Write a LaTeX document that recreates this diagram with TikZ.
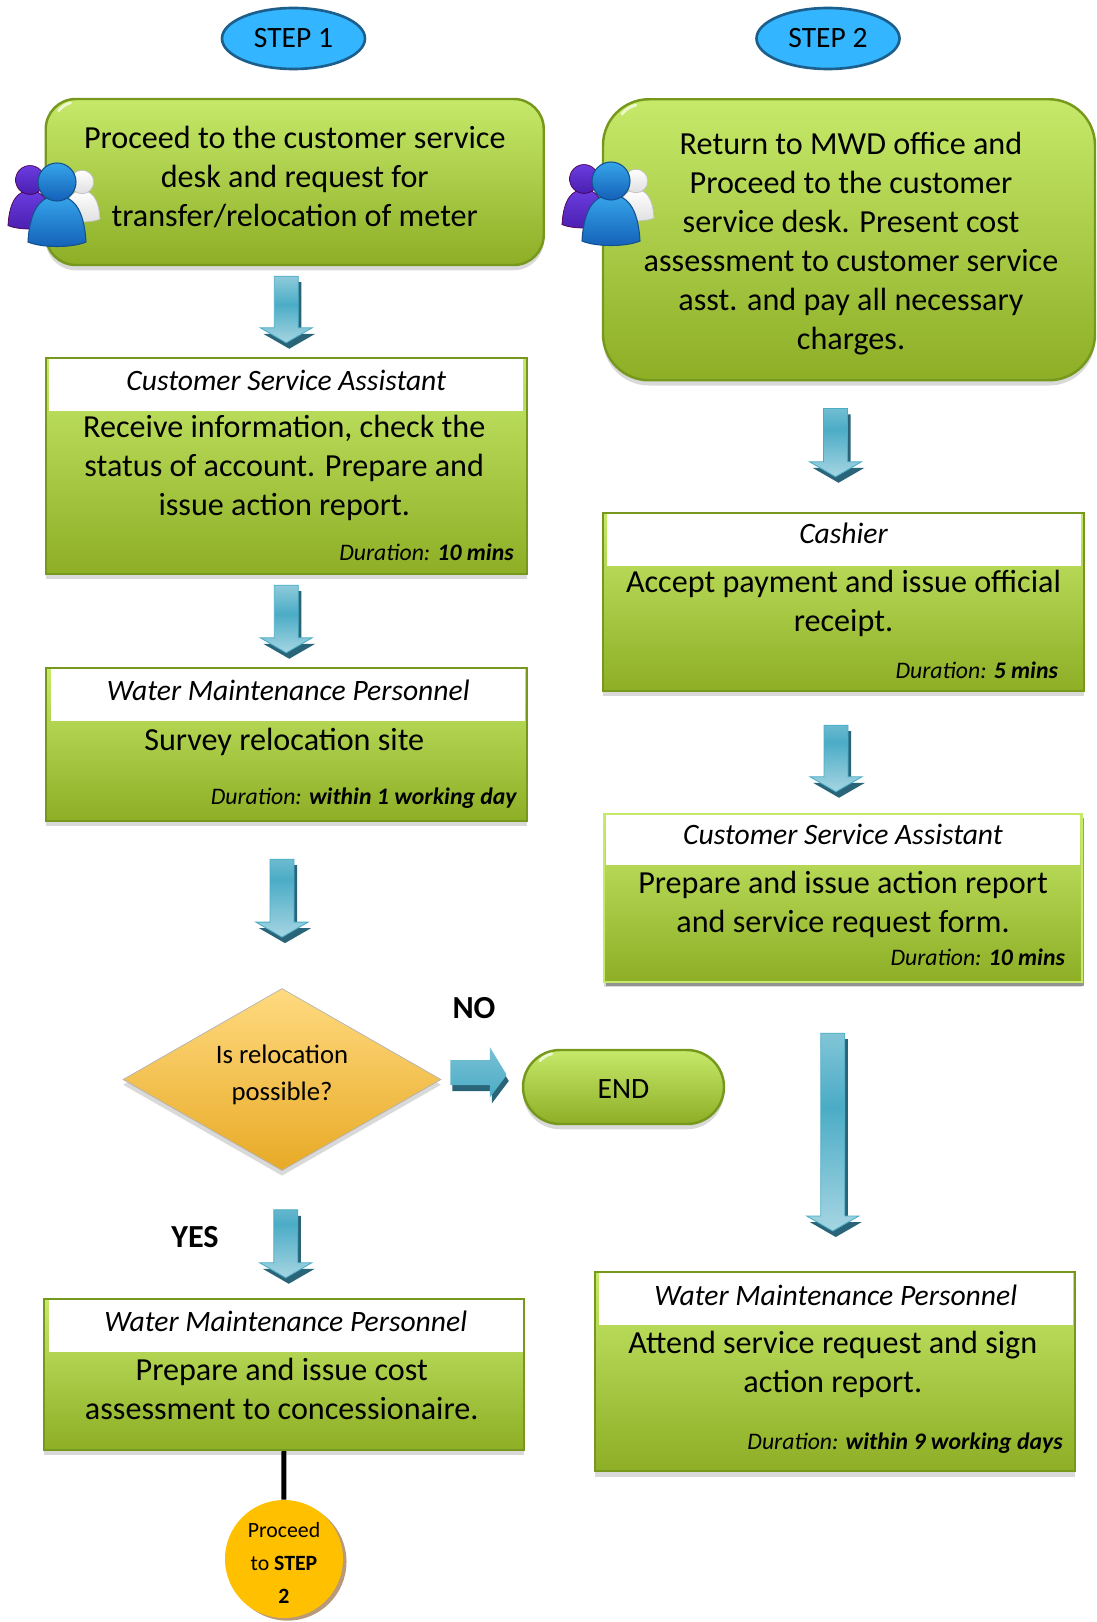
\documentclass[tikz,border=0pt]{standalone}
\usepackage{fontspec}
\setmainfont{Carlito}
\usetikzlibrary{positioning,calc,shadows,shapes.geometric}
\newdimen\unitDist
\unitDist=0.02cm
\definecolor{boxTop}{HTML}{C6E96A}
\definecolor{boxBot}{HTML}{8DAE25}
\definecolor{boxLine}{HTML}{76981C}
\definecolor{arrowLight}{HTML}{A6D5E2}
\definecolor{arrowMid}{HTML}{4BACC6}
\definecolor{arrowDark}{HTML}{2A6478}
\tikzset{
  fatdown/.style n args={3}{to path={
    let \p1=(\tikztostart), \p2=(\tikztotarget) in
    (\x2+#3*\unitDist-12*\unitDist,\y1-#1*\unitDist) -- ++(24*\unitDist,0)
    -- (\x2+#3*\unitDist+12*\unitDist,\y2+#2*\unitDist+21*\unitDist)
    -- (\x2+#3*\unitDist+26*\unitDist,\y2+#2*\unitDist+21*\unitDist)
    -- (\x2+#3*\unitDist,\y2+#2*\unitDist+6*\unitDist)
    -- (\x2+#3*\unitDist-26*\unitDist,\y2+#2*\unitDist+21*\unitDist)
    -- (\x2+#3*\unitDist-12*\unitDist,\y2+#2*\unitDist+21*\unitDist)
    -- cycle},
    top color=arrowLight, bottom color=arrowLight, middle color=arrowMid,
    draw=arrowMid, line width=0.5pt,
    preaction={fill=arrowDark, transform canvas={shift={(3*\unitDist,-6*\unitDist)}}}},
  fatright/.style n args={2}{to path={
    let \p1=(\tikztostart), \p2=(\tikztotarget) in
    (\x1+#1*\unitDist,\y1+19.5*\unitDist) -- (\x2-#2*\unitDist-19*\unitDist,\y1+19.5*\unitDist)
    -- (\x2-#2*\unitDist-19*\unitDist,\y1+32.5*\unitDist) -- (\x2-#2*\unitDist-2*\unitDist,\y1+4.5*\unitDist)
    -- (\x2-#2*\unitDist-19*\unitDist,\y1-18*\unitDist) -- (\x2-#2*\unitDist-19*\unitDist,\y1-5.5*\unitDist)
    -- (\x1+#1*\unitDist,\y1-5.5*\unitDist) -- cycle},
    top color=arrowMid!75!white, bottom color=arrowMid,
    preaction={fill=arrowDark, transform canvas={shift={(2*\unitDist,-6*\unitDist)}}}},
  person/.pic={
    \path [pic actions] (-29,60) .. controls (-27,25) and (-15,14) .. (0,14) .. controls (15,14) and (27,25) .. (29,60) .. controls (15,66) and (-15,66) .. (-29,60) -- cycle;
    \path [pic actions] (0,0) circle [radius=19];
  },
  people/.pic={
    \path (25,0) pic [scale=0.62, draw=gray!50, top color=white, bottom color=gray!25] {person};
    \path (-27,-2) pic [scale=0.76, draw=violet!60!black, top color={rgb,255:red,107;green,60;blue,224}, bottom color={rgb,255:red,74;green,31;blue,176}] {person};
    \path (0,0) pic [draw={rgb,255:red,18;green,80;blue,143}, line width=0.6pt, top color={rgb,255:red,54;green,165;blue,234}, bottom color={rgb,255:red,20;green,96;blue,184}] {person};
  }
}
\begin{document}
\begin{tikzpicture}[x=0.02cm,y=-0.02cm,font=\fontsize{18.3}{22.2}\selectfont]

\tikzstyle{s0} = [ellipse, minimum width=143*\unitDist, minimum height=61*\unitDist, draw={rgb,255:red,28;green,95;blue,140}, line width=1.5pt, fill={rgb,255:red,51;green,181;blue,255}, font=\fontsize{16.8}{22.2}\selectfont]
\tikzstyle{s1} = [rectangle, rounded corners=30*\unitDist, line width=1.4pt, draw=boxLine, top color=boxTop, bottom color=boxBot, drop shadow={shadow xshift=0pt, shadow yshift=-3pt, opacity=0.3}]
\tikzstyle{s2} = [rectangle, line width=1.4pt, draw=boxLine, top color=boxTop, bottom color=boxBot, drop shadow={shadow xshift=0pt, shadow yshift=-3pt, opacity=0.3}]
\tikzstyle{head} = [rectangle, fill=white, inner sep=0pt, text height=0.35cm, text depth=0.105cm, font=\fontsize{16.85}{22.2}\selectfont\itshape]
\tikzstyle{txt} = [inner sep=0pt, align=center]
\tikzstyle{dur} = [inner sep=0pt, anchor=east, font=\fontsize{13.5}{16}\selectfont\itshape]
\tikzstyle{lbl} = [inner sep=0pt, font=\fontsize{18.3}{22.2}\selectfont\bfseries]
\tikzstyle{glint} = [white, line width=1.6pt, line cap=round, opacity=0.7]

\useasboundingbox (0,0) rectangle (1096,1622);

    \node [s0] (S1) at (293.5,38.5) {STEP 1};
    \node [s0] (S2) at (828,38.5) {STEP 2};

    % left column
    \node [s1, minimum width=498*\unitDist, minimum height=166*\unitDist] (A) at (294.75,182) {};
    \path (A) ++(0,-5) node [txt] (At) {Proceed to the customer service\\desk and request for\\transfer/relocation of meter};
    \draw [glint] (A.north west) ++(14,13) to [bend left=15] ++(12,-8);

    \path (A) ++(-8.5,284) node [s2, minimum width=481*\unitDist, minimum height=216*\unitDist] (B) {};
    \path (B.north) ++(0,1.5) node [head, anchor=north, minimum width=474*\unitDist, minimum height=52*\unitDist] (Bh) {Customer Service Assistant};
    \path (B) ++(-2,2) node [txt] (Bt) {Receive information, check the\\status of account. Prepare and\\issue action report.};
    \path (B.south east) ++(-14,-23) node [dur] (Bd) {Duration: \textbf{10 mins}};

    \path (B) ++(0,278.5) node [s2, minimum width=481*\unitDist, minimum height=153*\unitDist] (C) {};
    \path (C.north) ++(2,1.5) node [head, anchor=north, minimum width=474*\unitDist, minimum height=52*\unitDist] (Ch) {Water Maintenance Personnel};
    \path (C) ++(-2,-3) node [txt] (Ct) {Survey relocation site};
    \path (C.south east) ++(-11,-24) node [dur] (Cd) {Duration: \textbf{within 1 working day}};

    \node [diamond, aspect=1.75, minimum width=318*\unitDist, minimum height=182*\unitDist, inner sep=0pt, draw=gray!60, top color={rgb,255:red,255;green,218;blue,128}, bottom color={rgb,255:red,232;green,170;blue,38}, drop shadow={shadow xshift=0pt, shadow yshift=-3pt, opacity=0.3}] (D) at (282,1079.5) {};
    \path (D) ++(0,-5) node [txt, font=\fontsize{15.2}{21}\selectfont] (Dt) {Is relocation\\possible?};

    \node [s1, minimum width=201*\unitDist, minimum height=74*\unitDist, rounded corners=37*\unitDist] (K) at (623.5,1087) {};
    \path (K) ++(0,2) node [txt, font=\fontsize{16.8}{22.2}\selectfont] (Kt) {END};
    \draw [glint] (K.north west) ++(18,12) to [bend left=15] ++(12,-7);
    \node [lbl] (No) at (474,1008) {NO};
    \node [lbl] (Yes) at (195,1237) {YES};

    \path (D) ++(1.75,295) node [s2, minimum width=480*\unitDist, minimum height=151*\unitDist] (E) {};
    \path (E.north) ++(2,1.5) node [head, anchor=north, minimum width=474*\unitDist, minimum height=52*\unitDist] (Eh) {Water Maintenance Personnel};
    \path (E) ++(-2,14.5) node [txt] (Et) {Prepare and issue cost\\assessment to concessionaire.};

    \node [circle, minimum size=118*\unitDist, inner sep=0pt, fill={rgb,255:red,255;green,192;blue,0}, drop shadow={shadow xshift=2pt, shadow yshift=-1.5pt, fill=brown!60!gray, opacity=0.8}] (J) at (284,1559) {};
    \path (J) ++(0,4) node [txt, font=\fontsize{12.4}{18.6}\selectfont] (Jt) {Proceed\\to \textbf{STEP}\\\textbf{2}};

    % right column
    \node [s1, rounded corners=46*\unitDist, minimum width=492*\unitDist, minimum height=281*\unitDist] (F) at (849,239.75) {};
    \path (F) ++(2,3.5) node [txt] (Ft) {Return to MWD office and\\Proceed to the customer\\service desk. Present cost\\assessment to customer service\\asst. and pay all necessary\\charges.};
    \draw [glint] (F.north west) ++(20,16) to [bend left=15] ++(14,-9);

    \node [s2, minimum width=481*\unitDist, minimum height=178*\unitDist] (G) at (843.5,602) {};
    \path (G.north) ++(0,1.5) node [head, anchor=north, text depth=0.185cm, minimum width=474*\unitDist, minimum height=52*\unitDist] (Gh) {Cashier};
    \path (G) ++(0,1) node [txt] (Gt) {Accept payment and issue official\\receipt.};
    \path (G.south east) ++(-27,-22) node [dur] (Gd) {Duration: \textbf{5 mins}};

    \node [s2, draw=boxTop, minimum width=478*\unitDist, minimum height=168*\unitDist, drop shadow={shadow xshift=1pt, shadow yshift=-2.5pt, fill=gray, opacity=0.8}] (H) at (843,898) {};
    \path (H.north) ++(0,2) node [head, anchor=north, text depth=0.185cm, minimum width=474*\unitDist, minimum height=50*\unitDist] (Hh) {Customer Service Assistant};
    \path (H) ++(0,6.5) node [txt] (Ht) {Prepare and issue action report\\and service request form.};
    \path (H.south east) ++(-18,-25.5) node [dur] (Hd) {Duration: \textbf{10 mins}};

    \node [s2, minimum width=480*\unitDist, minimum height=199*\unitDist] (I) at (834.75,1371.75) {};
    \path (I.north) ++(1,1.5) node [head, anchor=north, minimum width=474*\unitDist, minimum height=52*\unitDist] (Ih) {Water Maintenance Personnel};
    \path (I) ++(-2,-7) node [txt] (It) {Attend service request and sign\\action report.};
    \path (I.south east) ++(-13,-29) node [dur] (Id) {Duration: \textbf{within 9 working days}};

    \path [fatdown={10}{8}{0}] (A.south -| B.north) to (B.north);
    \path [fatdown={10}{8}{0}] (B.south) to (C.north);
    \path [fatdown={37}{45}{0}] (C.south -| D.north) to (D.north);
    \path [fatdown={39}{14}{2}] (D.south) to (E.north);
    \path [fatdown={27}{29}{-8}] (F.south -| G.north) to (G.north);
    \path [fatdown={33}{15}{-7}] (G.south) to (H.north);
    \path [fatdown={50}{34}{-2}] (H.south -| I.north) to (I.north);
    \path [fatright={9}{13}] (D.east) to (K.west);

    \draw [line width=2.8pt] (E) -- (J);

    \path (57,182) pic {people};
    \path (611,181) pic {people};

\end{tikzpicture}
\end{document}
